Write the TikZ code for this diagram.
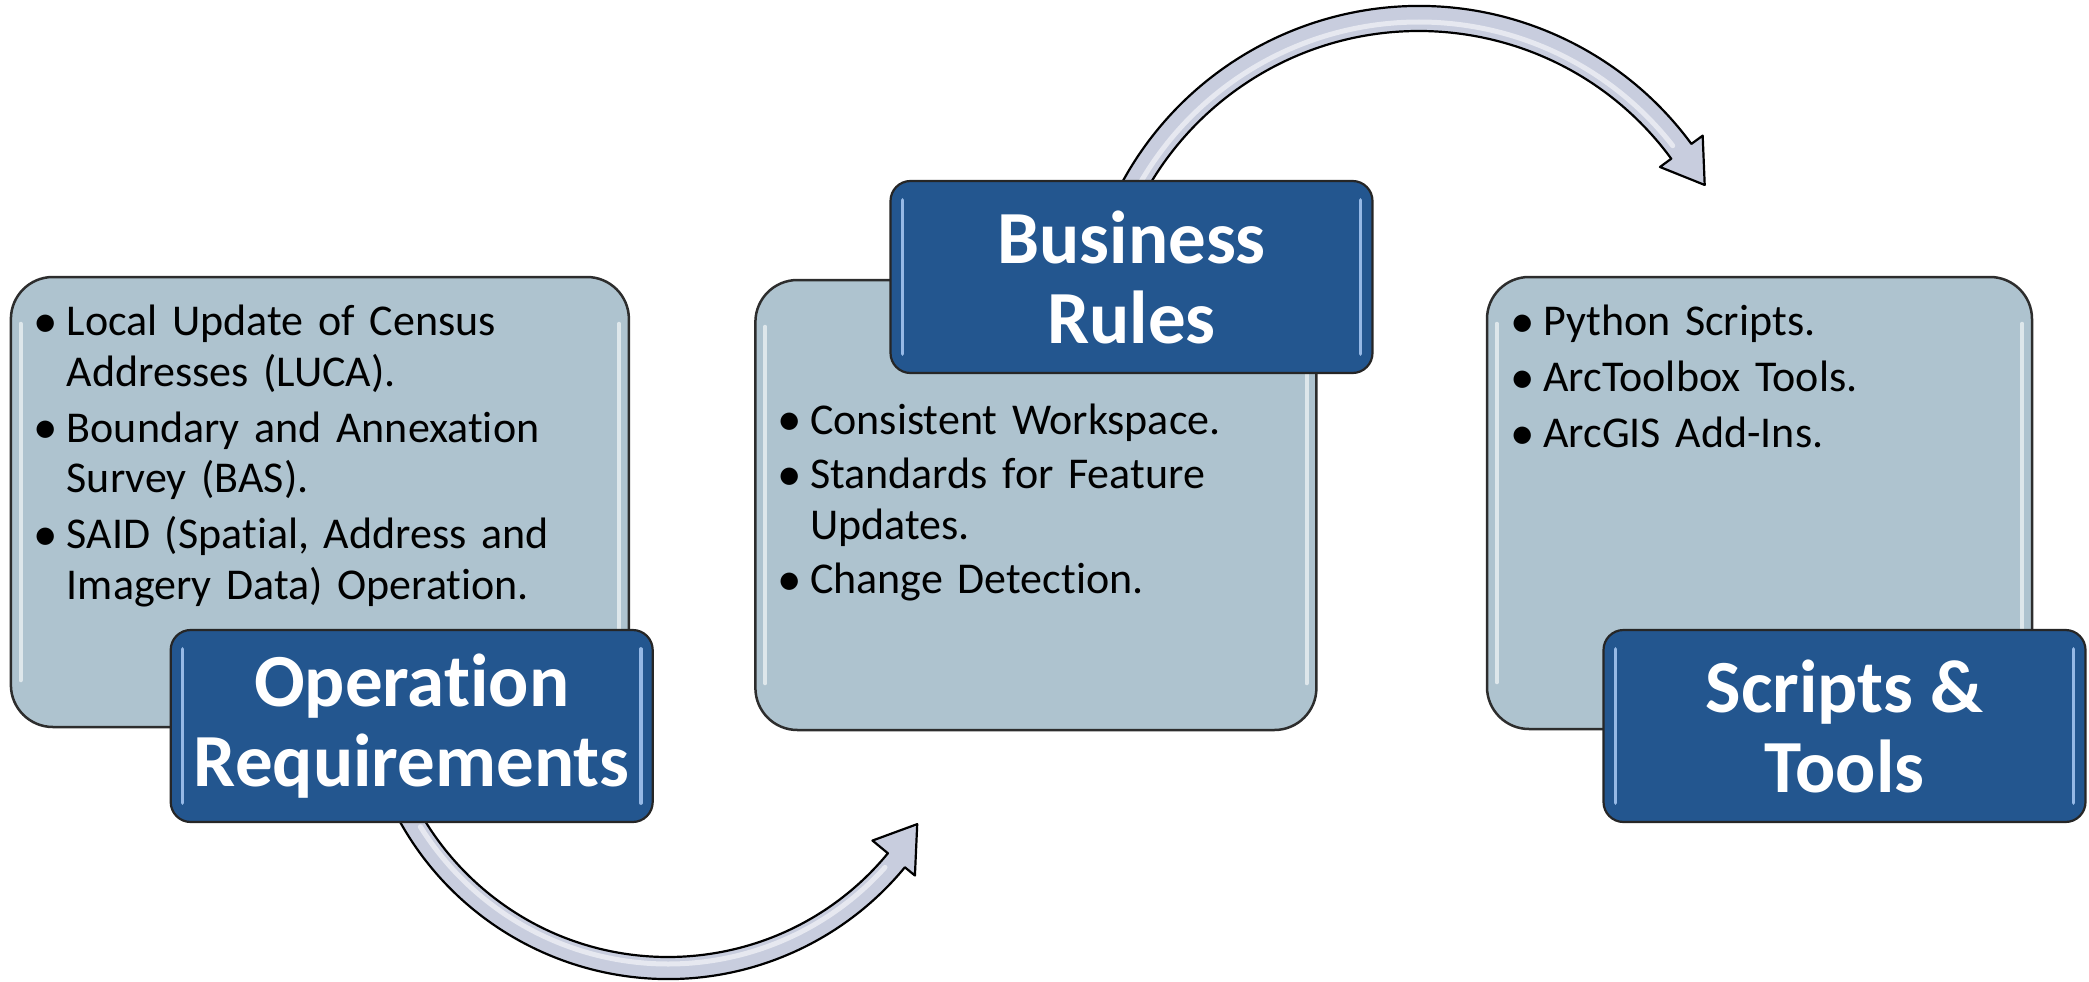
\documentclass[tikz,border=0pt]{standalone}
\usepackage{fontspec}
\setmainfont{Carlito}[Ligatures=NoCommon]
\usetikzlibrary{calc}
\definecolor{lightfill}{RGB}{174,195,207}
\definecolor{darkfill}{RGB}{35,86,143}
\definecolor{arrowfill}{RGB}{200,205,222}
\definecolor{edgegray}{RGB}{45,45,45}
\definecolor{hlblue}{RGB}{150,185,230}
\newcommand\bitem[1]{\noindent\hangindent=34pt\hangafter=1\makebox[34pt][l]{\hspace{1pt}\raisebox{-1.5pt}{\fontsize{49}{50}\selectfont\textbullet}}#1\par}
\newcommand\brk{\hfil\break}
\begin{document}
\begin{tikzpicture}[x=1pt,y=-1pt,
  lightbox/.style={draw=edgegray, line width=2.5pt, fill=lightfill, rounded corners=42pt, inner sep=0pt},
  darkbox/.style={draw=black!85, line width=2.2pt, fill=darkfill, rounded corners=20pt, inner sep=0pt,
    minimum width=482pt, minimum height=192pt, text=white, align=center,
    font=\fontsize{75}{80}\selectfont\bfseries},
  bullets/.style={anchor=base west, inner sep=0pt, text width=560pt, font=\fontsize{44}{50.6}\selectfont},
  curvedarrow/.style={draw=black, line width=2.2pt, fill=arrowfill, line join=round},
  shine/.style={white, opacity=0.55, line width=5pt, line cap=round},
  lightshine/.style={white, opacity=0.6, line width=4pt, line cap=round},
  darkshine/.style={hlblue, line width=3.5pt, line cap=round},
]
\useasboundingbox (0,0) rectangle (2089,982);

% curved arrows (drawn first, behind the boxes)
\coordinate (cb) at (668,672);
\coordinate (ct) at (1419,344);
\path[curvedarrow] ($(cb)+(205:307pt)$) arc[start angle=205, end angle=320.5, radius=307pt]
  -- ($(cb)+(320.5:320pt)$) -- ($(cb)+(328.6:292pt)$) -- ($(cb)+(320.5:265pt)$)
  -- ($(cb)+(320.5:285pt)$) arc[start angle=320.5, end angle=205, radius=285pt] -- cycle;
\draw[shine] ($(cb)+(212:292pt)$) arc[start angle=212, end angle=318, radius=292pt];
\path[curvedarrow] ($(ct)+(156:338pt)$) arc[start angle=156, end angle=36.3, radius=338pt]
  -- ($(ct)+(36.3:352pt)$) -- ($(ct)+(29.1:327pt)$) -- ($(ct)+(36.3:299pt)$)
  -- ($(ct)+(36.3:313pt)$) arc[start angle=36.3, end angle=156, radius=313pt] -- cycle;
\draw[shine] ($(ct)+(150:322pt)$) arc[start angle=150, end angle=38, radius=322pt];

% light content boxes
\node[lightbox, minimum width=618pt, minimum height=450pt] (opbody) at (319.9,502) {};
\node[lightbox, minimum width=561pt, minimum height=450pt] (brbody) at (1035.9,505) {};
\node[lightbox, minimum width=545pt, minimum height=452pt] (stbody) at (1759.5,503) {};
\foreach \b in {opbody,brbody,stbody}{
  \draw[lightshine] ([xshift=11pt,yshift=-48pt]\b.north west) -- ([xshift=11pt,yshift=48pt]\b.south west);
  \draw[lightshine] ([xshift=-11pt,yshift=-48pt]\b.north east) -- ([xshift=-11pt,yshift=48pt]\b.south east);
}

% bullet texts
\node[bullets] (optext) at (32.6,335.7) {\setlength\parskip{5.4pt}%
\bitem{Local Update of Census\brk Addresses (LUCA).}%
\bitem{Boundary and Annexation\brk Survey (BAS).}%
\bitem{SAID (Spatial, Address and\brk Imagery Data) Operation.}};
\node[bullets] (brtext) at (776,434) {\setlength\parskip{4pt}%
\bitem{Consistent Workspace.}%
\bitem{Standards for Feature\brk Updates.}%
\bitem{Change Detection.}};
\node[bullets] (sttext) at (1509,335.7) {\setlength\parskip{5.4pt}%
\bitem{Python Scripts.}%
\bitem{ArcToolbox Tools.}%
\bitem{ArcGIS Add-Ins.}};

% dark title boxes
\node[darkbox] (optitle) at (411.7,726) {Operation\\Requirements};
\node[darkbox] (brtitle) at (1131.5,277) {Business\\Rules};
\node[darkbox] (sttitle) at (1844.5,726) {Scripts \&\\Tools};
\foreach \b in {optitle,brtitle,sttitle}{
  \draw[darkshine] ([xshift=13pt,yshift=-20pt]\b.north west) -- ([xshift=13pt,yshift=20pt]\b.south west);
  \draw[darkshine] ([xshift=-13pt,yshift=-20pt]\b.north east) -- ([xshift=-13pt,yshift=20pt]\b.south east);
}
\end{tikzpicture}
\end{document}
